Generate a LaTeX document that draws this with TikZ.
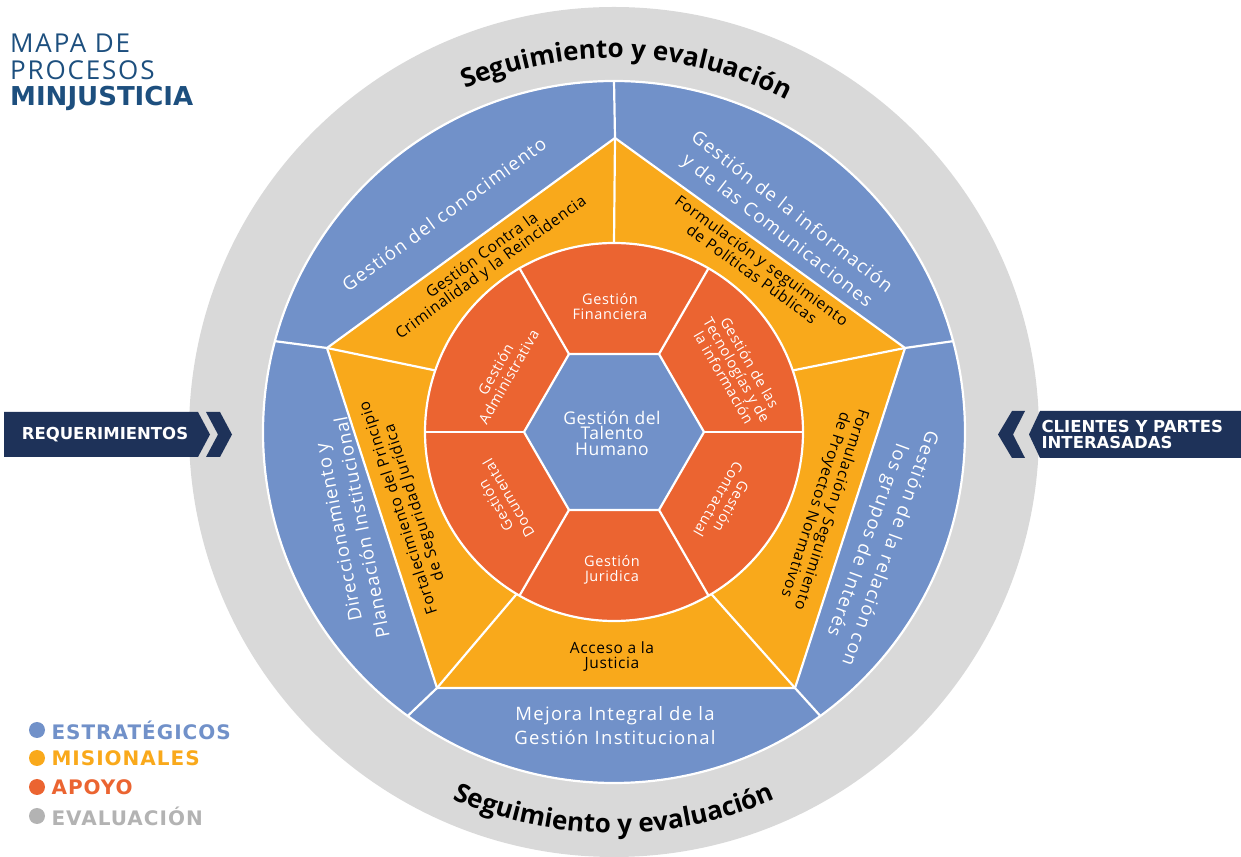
\documentclass[tikz,border=0pt]{standalone}
\usepackage{fontspec}
\setmainfont{Open Sans}
\newfontfamily\gruesa{DejaVu Sans}
\usepackage{xcolor}
\usetikzlibrary{decorations.text}

\definecolor{grisEval}{HTML}{D9D9D9}
\definecolor{azulEstr}{HTML}{7191C9}
\definecolor{amarMis}{HTML}{F9A91B}
\definecolor{rojoApoyo}{HTML}{EB6431}
\definecolor{navyBanner}{HTML}{1E3259}
\definecolor{azulTitulo}{HTML}{1D4F7E}
\definecolor{grisLeyenda}{HTML}{B3B3B3}

\newcommand{\seguifont}{\fontsize{26}{26}\selectfont\bfseries}

\begin{document}
\begin{tikzpicture}[x=1pt,y=1pt,
    borde/.style={draw=white, line width=2.2pt},
    estrtxt/.style={text=white, align=center, font=\fontsize{18.5}{24}\selectfont\addfontfeature{LetterSpace=7}},
    mistxt/.style={text=black, align=center, font=\fontsize{15.5}{15}\selectfont\addfontfeature{LetterSpace=4}},
    apoyotxt/.style={text=white, align=center, font=\fontsize{14.5}{15}\selectfont\addfontfeature{LetterSpace=4}},
    leyenda/.style={anchor=west, font=\gruesa\bfseries\fontsize{20}{20}\selectfont\addfontfeature{LetterSpace=5}},
    bandera/.style={text=white, font=\gruesa\bfseries\fontsize{16.5}{16}\selectfont}]
    % Define dimensions (1pt = 1px of the sheet)
    \def\Rgris{425}    % Evaluacion ring
    \def\Razul{351}    % Estrategicos ring
    \def\Rapoyo{189}   % Apoyo circle
    \def\Rhex{90}      % Talento Humano hexagon
    \coordinate (C) at (614,424);

    \useasboundingbox (0,0) rectangle (1241,856);

    % Evaluacion ring
    \fill[grisEval] (C) circle (\Rgris);

    % Estrategicos ring
    \draw[borde, fill=azulEstr] (C) circle (\Razul);

    % Misionales pentagon
    \coordinate (P1) at (615,718);
    \coordinate (P2) at (905,508);
    \coordinate (P3) at (795,168);
    \coordinate (P4) at (437,168);
    \coordinate (P5) at (327,508);
    \draw[borde] (P1) -- ([shift={(90:\Razul)}]C);
    \draw[borde] (P2) -- ([shift={(15:\Razul)}]C);
    \draw[borde] (P3) -- ([shift={(306:\Razul)}]C);
    \draw[borde] (P4) -- ([shift={(234:\Razul)}]C);
    \draw[borde] (P5) -- ([shift={(165:\Razul)}]C);
    \draw[borde, fill=amarMis, line join=round] (P1) -- (P2) -- (P3) -- (P4) -- (P5) -- cycle;
    \draw[borde] (P1) -- ([shift={(90:\Rapoyo)}]C);
    \draw[borde] (P2) -- ([shift={(19:\Rapoyo)}]C);
    \draw[borde] (P3) -- ([shift={(301:\Rapoyo)}]C);
    \draw[borde] (P4) -- ([shift={(239:\Rapoyo)}]C);
    \draw[borde] (P5) -- ([shift={(161:\Rapoyo)}]C);

    % Apoyo circle
    \draw[borde, fill=rojoApoyo] (C) circle (\Rapoyo);
    \foreach \a in {0,60,...,300} {
        \draw[borde, shift={(C)}] (\a:\Rhex) -- (\a:\Rapoyo);
    }

    % Talento Humano hexagon
    \draw[borde, fill=azulEstr, shift={(C)}] (0:\Rhex) -- (60:\Rhex) -- (120:\Rhex)
        -- (180:\Rhex) -- (240:\Rhex) -- (300:\Rhex) -- cycle;
    \node[text=white, align=center, font=\fontsize{17.5}{15.5}\selectfont\addfontfeature{LetterSpace=3}] (talento) at (612,423) {Gestión del\\Talento\\Humano};

    % Estrategicos labels
    \node[estrtxt, rotate=36] (conocimiento) at (444,642) {Gestión del conocimiento};
    \node[estrtxt, rotate=-38] (informacion) at (784,634) {Gestión de la información\\y de las Comunicaciones};
    \node[estrtxt, rotate=-110] (grupos) at (878,312) {Gestión de la relación con\\los grupos de Interés};
    \node[estrtxt] (mejora) at (615,130) {Mejora Integral de la\\Gestión Institucional};
    \node[estrtxt, rotate=101, font=\fontsize{18.5}{24}\selectfont\addfontfeature{LetterSpace=5}] (direccion) at (350,326) {Direccionamiento y\\Planeación Institucional};

    % Misionales labels
    \node[mistxt, rotate=36] (criminalidad) at (487,594) {Gestión Contra la\\Criminalidad y la Reincidencia};
    \node[mistxt, rotate=-36] (politicas) at (757,589) {Formulación y seguimiento\\de Políticas Públicas};
    \node[mistxt, rotate=108] (seguridad) at (407,351) {Fortalecimiento del Principio\\de Seguridad Jurídica};
    \node[mistxt, rotate=-108] (normativos) at (823,349) {Formulación y Seguimiento\\de Proyectos Normativos};
    \node[mistxt] (acceso) at (612,199) {Acceso a la\\Justicia};

    % Apoyo labels
    \node[apoyotxt] (financiera) at (610,549) {Gestión\\Financiera};
    \node[apoyotxt, rotate=-60] (tecnologias) at (737,486) {Gestión de las\\Tecnologías y de\\la información};
    \node[apoyotxt, rotate=-120] (contractual) at (725,353) {Gestión\\Contractual};
    \node[apoyotxt] (juridica) at (612,286) {Gestión\\Juridica};
    \node[apoyotxt, rotate=120] (documental) at (502,354) {Gestión\\Documental};
    \node[apoyotxt, rotate=60] (administrativa) at (502,483) {Gestión\\Administrativa};

    % Seguimiento y evaluacion (top and bottom)
    \path[shift={(C)}, decorate, decoration={text along path, text align=center,
        text={|\seguifont|Seguimiento y evaluación}}]
        (116:374) arc[start angle=116, end angle=60, radius=374];
    \path[shift={(C)}, decorate, decoration={text along path, text align=center,
        text={|\seguifont|Seguimiento y evaluación}}]
        (240:401) arc[start angle=240, end angle=300, radius=401];

    % Banners
    \fill[navyBanner] (4,444) -- (198,444) -- (210,421.5) -- (198,399) -- (4,399) -- cycle;
    \fill[navyBanner] (206,444) -- (220,444) -- (232,421.5) -- (220,399) -- (206,399) -- (218,421.5) -- cycle;
    \node[bandera] (requerimientos) at (105,421.5) {REQUERIMIENTOS};
    \fill[navyBanner] (1241,445) -- (1040,445) -- (1029,421.5) -- (1040,398) -- (1241,398) -- cycle;
    \fill[navyBanner] (1025,445) -- (1012,445) -- (998,421.5) -- (1012,398) -- (1025,398) -- (1013,421.5) -- cycle;
    \node[bandera, align=left, anchor=west] (clientes) at (1038,421.5) {CLIENTES Y PARTES\\INTERASADAS};

    % Title
    \node[anchor=north west, align=left, inner sep=0pt, text=azulTitulo, font=\fontsize{26}{26.5}\selectfont\addfontfeature{LetterSpace=7}] (titulo) at (10,822) {MAPA DE\\PROCESOS\\{\gruesa\bfseries MINJUSTICIA}};

    % Legend
    \foreach \y/\col/\txt in {126/azulEstr/ESTRATÉGICOS, 98/amarMis/MISIONALES, 69/rojoApoyo/APOYO, 40/grisLeyenda/EVALUACIÓN} {
        \fill[\col] (37,\y) circle (8);
        \node[leyenda, text=\col] (ley-\col) at (48,\y) {\txt};
    }
\end{tikzpicture}
\end{document}
